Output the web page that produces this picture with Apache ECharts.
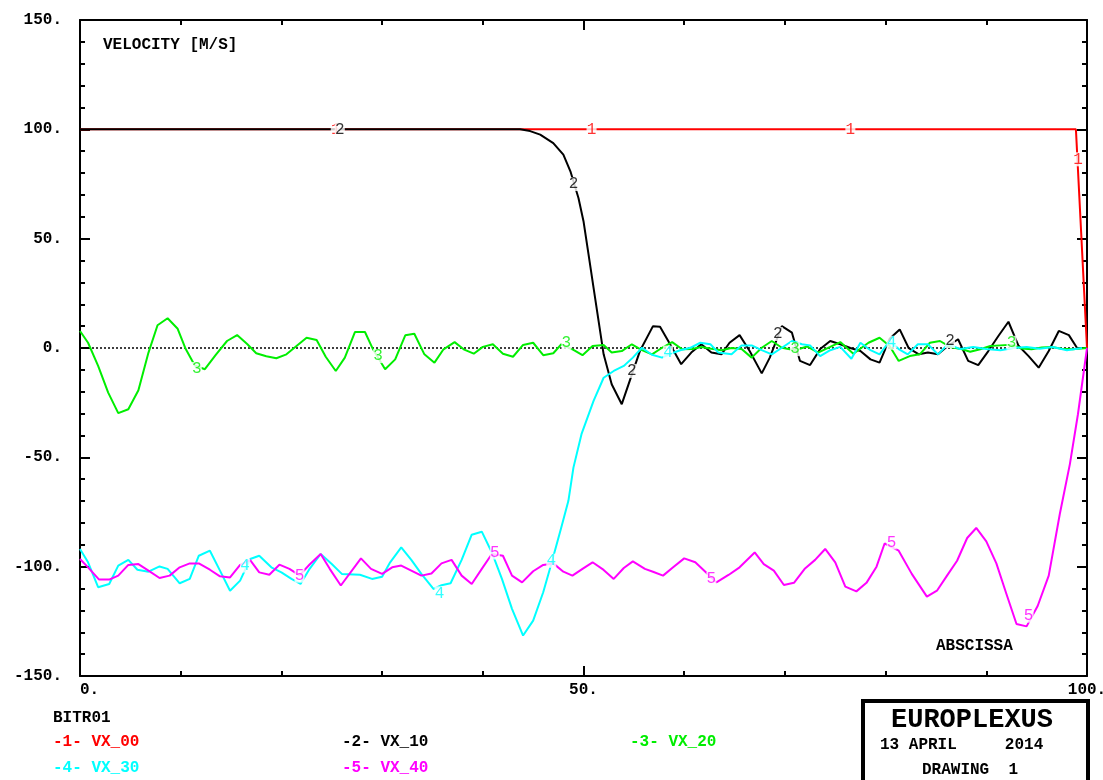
<!DOCTYPE html>
<html lang="en">

<head>
    <meta charset="UTF-8">
    <title>EUROPLEXUS - VELOCITY</title>
    <style>
        html, body { margin: 0; padding: 0; background: #fff; }
        .box { width: 1103px; height: 780px; }
    </style>
</head>

<body>
    <div class="box"></div>

    <script src="https://cdn.jsdelivr.net/npm/echarts@6/dist/echarts.min.js"></script>
    <script>
        // curve names and colours
        let names = ["VX_00", "VX_10", "VX_20", "VX_30", "VX_40"];
        let colors = ["#ff0000", "#000000", "#00ee00", "#00ffff", "#ff00ff"];

        // [abscissa, velocity]
        let vx00 = [[0, 100], [98.9, 100], [100, 0]];
        let vx10 = [
            [0, 100], [43.7, 100], [44.7, 99.2], [45.7, 97.6], [47, 93.7], [48, 88.4], [48.7, 80.8],
            [49.5, 68.6], [50, 58], [50.5, 42.8], [51, 27.5], [51.5, 12.3], [52, -2.9], [52.8, -16.6],
            [53.8, -25.7], [55.6, -1.4], [56.9, 10], [57.6, 9.7], [58.6, 1.7], [59.7, -7.4], [60.7, -2.1],
            [61.7, 1.7], [62.7, -2.1], [63.7, -2.9], [64.5, 2.4], [65.5, 5.9], [66.5, -1.4], [67.7, -11.6],
            [68.5, -4.4], [69.7, 10], [70.7, 7], [71.5, -5.9], [72.5, -7.8], [73.5, -0.5], [74.5, 3.2],
            [75.5, 1.7], [76.5, 0], [77.5, -1.4], [78.5, -5.2], [79.4, -6.7], [80.4, 4.2], [81.4, 8.5],
            [82.3, -0.1], [83.3, -2.9], [84.2, -2.1], [85.2, -2.9], [86.2, 1], [87.2, 4], [88.2, -5.9],
            [89.2, -7.8], [90.2, -1.4], [91.2, 5.5], [92.2, 12], [93.2, 1], [94.2, -3.7], [95.2, -9],
            [96.2, -1.4], [97.2, 7.8], [98.2, 5.9], [99, 0.1], [100, 0]
        ];
        let vx20 = [
            [0, 7.8], [0.8, 2.4], [1.8, -8.2], [2.8, -20.4], [3.8, -29.8], [4.8, -28], [5.8, -19.3],
            [6.8, -2.1], [7.7, 10.4], [8.7, 13.6], [9.7, 8.8], [10.5, -0.5], [11.4, -8], [12.4, -9.7],
            [13.5, -3], [14.6, 3.2], [15.6, 5.9], [16.6, 1.8], [17.5, -2.4], [18.5, -3.8], [19.5, -4.7],
            [20.5, -2.9], [21.5, 0.9], [22.5, 4.7], [23.5, 3.7], [24.4, -4], [25.4, -10.5], [26.3, -4.4],
            [27.3, 7.3], [28.3, 7.3], [29.1, -0.6], [30.3, -9.7], [31.3, -5.2], [32.3, 5.8], [33.2, 6.5],
            [34.2, -2.9], [35.2, -6.7], [36.1, -0.6], [37.2, 2.7], [38.1, -0.6], [39.1, -2.6], [40, 0.5],
            [41, 1.7], [42, -2.6], [43, -4], [44, 1.4], [45, 2.4], [46, -3.3], [47, -2.4], [47.8, 1.7],
            [49, -0.9], [49.9, -3.3], [50.9, 0.9], [52, 1.4], [52.8, -2.1], [53.8, -1.4], [54.8, 1.7],
            [55.8, -1], [56.8, -2.9], [57.8, 0.1], [58.8, 2.7], [59.8, -0.6], [60.8, -0.5], [61.7, 0.5],
            [62.7, -0.3], [63.7, -1], [64.7, 0], [65.7, -0.5], [66.7, -4.4], [67.7, 0.1], [68.7, 3.2],
            [69.7, 0.1], [71, -1], [72.2, 0.7], [73.3, -2.1], [74.5, 0.5], [75.5, 2.7], [76.8, -2.6],
            [78.3, 2.4], [79.4, 4.7], [80.4, 0.9], [81.3, -5.9], [82.4, -3.7], [83.4, -2.9], [84.4, 2.4],
            [85.4, 3.2], [86.4, 0.5], [87.6, -0.6], [88.4, -1.7], [89.4, -0.6], [90.4, 0.9], [91.4, 1.2],
            [92.5, 1.5], [93.5, -0.2], [94.5, -0.6], [95.5, 0.2], [96.5, 0.5], [97.5, -0.3], [98.6, -0.6],
            [100, 0]
        ];
        let vx30 = [
            [0, -91.9], [0.8, -98], [1.8, -109.4], [2.9, -107.9], [3.8, -99.5], [4.8, -96.9], [5.7, -101.4],
            [6.8, -102.3], [7.9, -99.9], [8.7, -101], [9.9, -107.6], [10.9, -105.6], [11.8, -95], [12.9, -92.7],
            [13.9, -101.8], [14.9, -111], [15.9, -106.4], [16.9, -96.5], [17.8, -95], [19, -100.3], [20, -102.6],
            [21, -105.6], [21.9, -107.9], [22.8, -101], [23.9, -94.2], [25, -98.8], [26, -103.3], [27.8, -103.7],
            [29, -105.6], [30, -104.6], [30.8, -98], [31.9, -91.2], [32.9, -96.9], [33.9, -103.3], [35.1, -110.2],
            [35.9, -108.5], [36.8, -107.6], [37.9, -96.9], [38.9, -85.4], [39.9, -84], [40.9, -93.5], [41.9, -105.6],
            [42.9, -119.3], [44, -131.5], [45, -124.7], [46, -111.7], [46.8, -98.8], [47.8, -82], [48.5, -69.9],
            [49, -54.7], [49.8, -39.4], [51, -24.2], [52, -13.6], [53, -10.5], [54, -8.2], [54.9, -4.4],
            [55.8, 0.1], [56.8, -3.1], [57.8, -4.4], [58.7, -2.5], [59.6, -1], [60.6, 0.1], [61.6, 2.4],
            [62.6, 1.7], [63.4, -2.1], [64.7, -2.9], [65.7, 1.2], [66.7, 1.2], [67.7, -1], [68.7, -2.9],
            [69.7, 0.1], [70.7, 3.2], [71.7, 1.7], [72.5, 1.2], [73.5, -3.7], [74.5, -1], [75.5, 0.5],
            [76.6, -4.9], [77.5, 2.4], [78.5, -1], [79.4, -2.9], [80.4, 3.2], [81.3, -0.5], [82.2, -2.9],
            [83.2, 1.7], [84.2, 1.7], [85.2, -2.9], [86.2, 1.7], [87.4, -0.5], [88.7, 0.5], [90, -0.5],
            [91.4, -1], [92.7, 0], [94, 0.5], [95.3, -0.3], [96.6, 0.5], [98, -1], [99, -0.3], [99.5, 0]
        ];
        let vx40 = [
            [0, -96.5], [0.8, -100.3], [1.9, -105.9], [2.9, -105.9], [3.8, -104.1], [4.8, -99.2], [5.8, -98.8],
            [6.8, -101.8], [7.9, -105.2], [8.9, -104.1], [9.9, -100.3], [10.9, -98.5], [11.8, -98.5], [12.9, -101.4],
            [13.9, -104.4], [14.9, -104.9], [15.9, -99.2], [16.9, -97], [17.8, -102.6], [18.8, -103.7], [19.8, -99.1],
            [20.8, -101], [21.8, -104], [22.8, -99], [23.9, -94.2], [24.8, -101], [25.9, -108.6], [27.9, -96.2],
            [28.9, -101], [30, -103.3], [31, -100.3], [31.9, -99.5], [32.9, -101.8], [33.9, -104.1], [34.9, -103.1],
            [35.9, -98.5], [36.9, -96.9], [37.9, -104.1], [38.9, -107.9], [39.9, -101], [40.9, -94.2], [42, -95],
            [42.9, -104.1], [43.9, -107.2], [45, -102.1], [46, -99.2], [47, -98.5], [48, -102.3], [48.9, -104.1],
            [49.9, -101], [50.9, -98], [52, -101.5], [53, -105.6], [54, -100.6], [54.9, -97.6], [56.1, -101],
            [56.9, -102.3], [57.9, -104.1], [58.9, -100.3], [60, -96.2], [61.1, -98], [62.1, -102.3], [63.2, -107.2],
            [64.4, -103.8], [65.5, -100.3], [67, -93.5], [67.9, -98.8], [68.9, -101.8], [69.9, -108.4], [70.9, -107.4],
            [72, -100.8], [73, -96.9], [74, -91.9], [75, -98], [76, -109.1], [77.1, -111.3], [78.1, -107.4],
            [79.1, -100], [79.9, -89.4], [81.3, -92.7], [82.6, -103.3], [84.1, -113.7], [85.1, -111], [86.1, -104.1],
            [87.1, -97.3], [88.1, -86.9], [89, -82.3], [90, -88.4], [91, -98.5], [92, -112.5], [93, -126.2],
            [94, -127.3], [95.1, -118], [96.2, -104.1], [97.3, -75.9], [98.3, -53.1], [99.1, -30.3], [100, 0]
        ];
        let curves = [vx00, vx10, vx20, vx30, vx40];

        // where the curve numbers sit on the lines
        let tags = [
            [[25.4, 100], [50.8, 100], [76.5, 100], [99.1, 86.3]],
            [[25.8, 100], [49, 75], [54.8, -10.5], [69.3, 6.4], [86.4, 3.2]],
            [[11.6, -9.6], [29.6, -3.7], [48.3, 2.4], [71, -0.5], [92.5, 2.4]],
            [[16.4, -99.5], [35.7, -112.2], [46.8, -97.3], [58.4, -2.1], [80.6, 2.4]],
            [[21.8, -104.1], [41.2, -93.5], [62.7, -105.6], [80.6, -88.9], [94.2, -122.4]]
        ];

        let mono = "'Liberation Mono', 'DejaVu Sans Mono', monospace";

        let myChart = echarts.init(document.querySelector(".box"));

        let series = [{
            type: "line",
            data: [[0, 0], [100, 0]],
            symbol: "none",
            silent: true,
            z: 1,
            lineStyle: { color: "#000", width: 1.5, type: [2, 2] }
        }];
        curves.forEach(function (c, i) {
            series.push({
                name: names[i],
                type: "line",
                data: c,
                symbol: "none",
                z: 2 + i,
                lineStyle: { color: colors[i], width: 2 }
            });
        });
        tags.forEach(function (t, i) {
            series.push({
                type: "scatter",
                data: t,
                symbol: "rect",
                symbolSize: [10, 14],
                z: 10 + i,
                silent: true,
                itemStyle: { color: "#fff" },
                label: {
                    show: true,
                    position: "inside",
                    formatter: String(i + 1),
                    color: colors[i],
                    fontFamily: mono,
                    fontSize: 16
                }
            });
        });

        // legend text below the plot
        let legendText = [{
            type: "text", left: 53, top: 710,
            style: { text: "BITR01", font: "bold 16px " + mono, fill: "#000" }
        }];
        let legendPos = [[53, 734], [342, 734], [630, 734], [53, 760], [342, 760]];
        names.forEach(function (n, i) {
            legendText.push({
                type: "text", left: legendPos[i][0], top: legendPos[i][1],
                style: { text: "-" + (i + 1) + "- " + n, font: "bold 16px " + mono, fill: colors[i] }
            });
        });

        let tickLine = { color: "#000", width: 2 };

        option = {
            animation: false,
            grid: {
                left: 80,
                right: 16,
                top: 20,
                bottom: 104,
                outerBoundsMode: "none"
            },
            xAxis: [{
                type: "value",
                min: 0,
                max: 100,
                interval: 50,
                axisLine: { onZero: false, lineStyle: tickLine },
                axisTick: { inside: true, length: 10, lineStyle: tickLine },
                minorTick: { show: true, splitNumber: 5, length: 5, lineStyle: tickLine },
                axisLabel: {
                    formatter: "{value}.",
                    color: "#000",
                    fontFamily: mono,
                    fontWeight: "bold",
                    fontSize: 16,
                    margin: 6,
                    alignMinLabel: "left"
                },
                splitLine: { show: false }
            }, {
                type: "value",
                position: "top",
                min: 0,
                max: 100,
                interval: 50,
                axisLine: { onZero: false, lineStyle: tickLine },
                axisTick: { inside: true, length: 10, lineStyle: tickLine },
                minorTick: { show: true, splitNumber: 5, length: 5, lineStyle: tickLine },
                axisLabel: { show: false },
                splitLine: { show: false }
            }],
            yAxis: [{
                type: "value",
                min: -150,
                max: 150,
                interval: 50,
                axisLine: { onZero: false, lineStyle: tickLine },
                axisTick: { inside: true, length: 10, lineStyle: tickLine },
                minorTick: { show: true, splitNumber: 5, length: 5, lineStyle: tickLine },
                axisLabel: {
                    formatter: "{value}.",
                    color: "#000",
                    fontFamily: mono,
                    fontWeight: "bold",
                    fontSize: 16,
                    margin: 18
                },
                splitLine: { show: false }
            }, {
                type: "value",
                position: "right",
                min: -150,
                max: 150,
                interval: 50,
                axisLine: { onZero: false, lineStyle: tickLine },
                axisTick: { inside: true, length: 10, lineStyle: tickLine },
                minorTick: { show: true, splitNumber: 5, length: 5, lineStyle: tickLine },
                axisLabel: { show: false },
                splitLine: { show: false }
            }],
            graphic: legendText.concat([{
                type: "text", left: 103, top: 37,
                style: { text: "VELOCITY [M/S]", font: "bold 16px " + mono, fill: "#000" }
            }, {
                type: "text", left: 936, top: 638,
                style: { text: "ABSCISSA", font: "bold 16px " + mono, fill: "#000" }
            }, {
                type: "rect",
                shape: { x: 863, y: 701, width: 225, height: 100 },
                style: { fill: "#fff", stroke: "#000", lineWidth: 4 }
            }, {
                type: "text", left: 891, top: 707,
                style: { text: "EUROPLEXUS", font: "bold 27px " + mono, fill: "#000" }
            }, {
                type: "text", left: 880, top: 737,
                style: { text: "13 APRIL     2014", font: "bold 16px " + mono, fill: "#000" }
            }, {
                type: "text", left: 922, top: 762,
                style: { text: "DRAWING  1", font: "bold 16px " + mono, fill: "#000" }
            }]),
            series: series
        };
        myChart.setOption(option);
    </script>
</body>

</html>
